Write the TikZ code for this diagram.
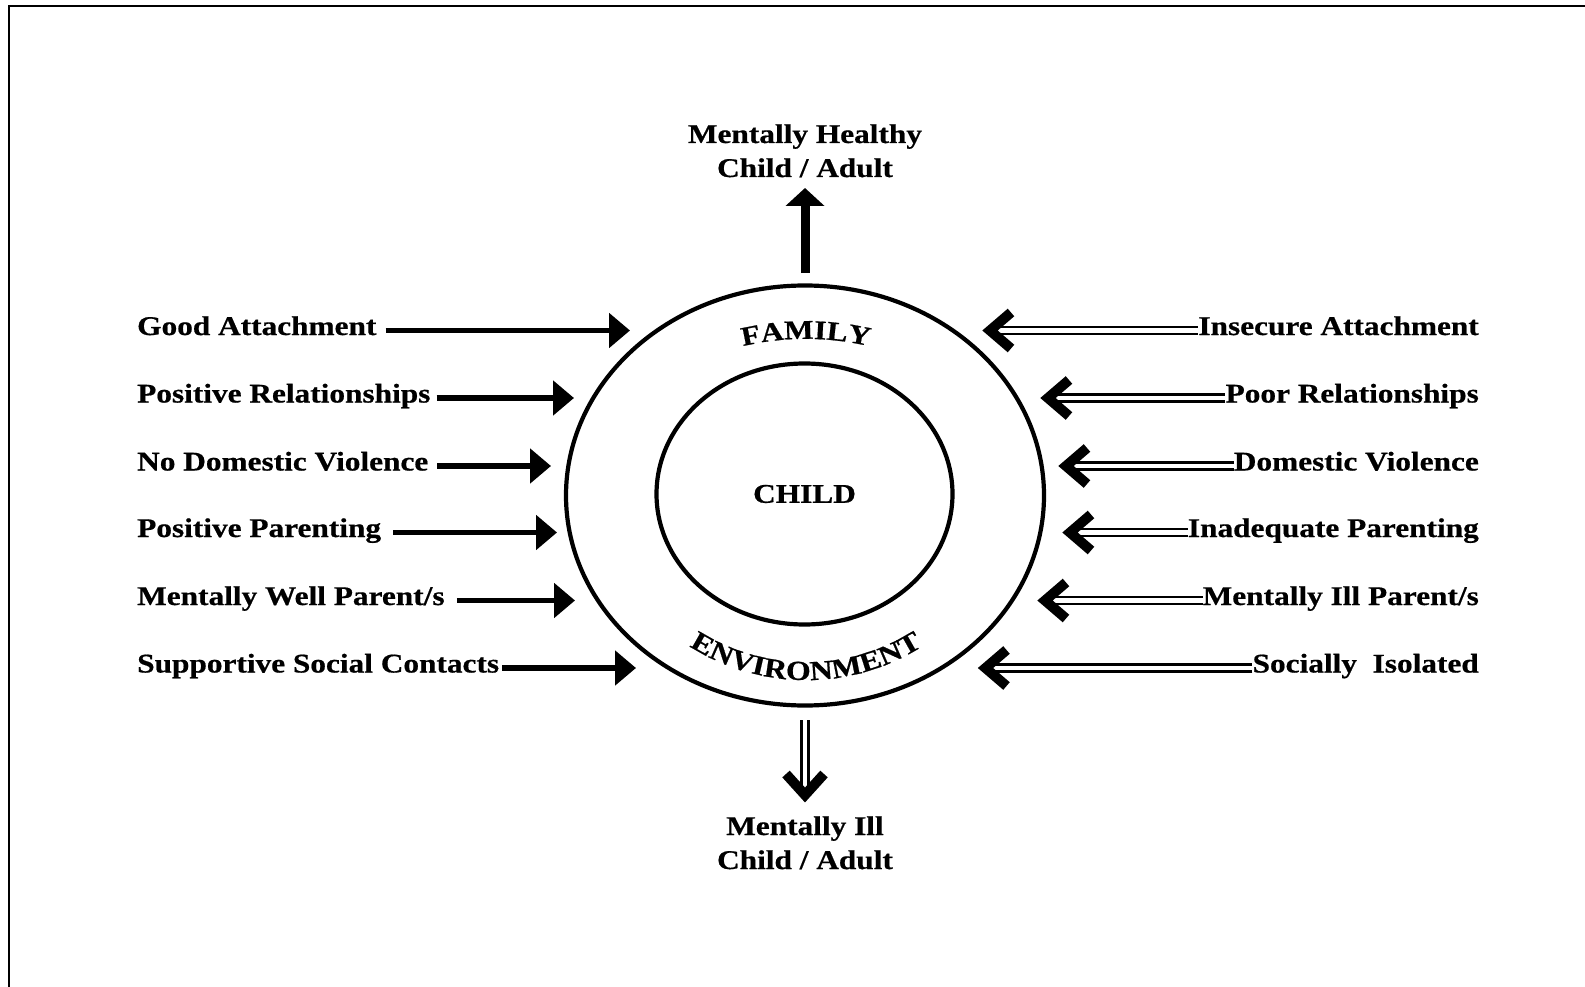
\documentclass[tikz,border=0pt]{standalone}
\usepackage{fontspec}
\setmainfont{Liberation Serif}[FakeStretch=1.16, BoldFeatures={FakeBold=0.6}]
\usetikzlibrary{arrows.meta,shapes.geometric,decorations.text}
\begin{document}
\begin{tikzpicture}[x=1pt,y=1pt,
 lbl/.style={inner sep=0, font=\fontsize{27}{33}\selectfont\bfseries},
 good/.style={line width=5.5pt, -{Triangle[length=21pt,width=34pt]}},
 bad/.style={double, double distance=4.5pt, line width=2.7pt},
 chev/.style={line width=10pt, miter limit=10},
 ring/.style={ellipse, draw, line width=4.2pt, inner sep=0}]
\useasboundingbox (0,0) rectangle (1585,-987);
\draw[line width=2.5pt] (9,-987) -- (9,-6) -- (1585,-6);

% rings
\node[ring, minimum width=478, minimum height=420] (outer) at (805,-495.5) {};
\node[ring, minimum width=296, minimum height=261] (inner) at (804.5,-494) {};
\node[lbl] (child) at (804.5,-494) {CHILD};

\path[decorate, decoration={text along path, text align=center,
  text={|\fontsize{27}{27}\selectfont\bfseries|FAMILY}}]
  (806,-619) ++(160:280) arc[start angle=160, end angle=20, radius=280];
\path[decorate, decoration={text along path, text align=center,
  text={|\fontsize{27.5}{27.5}\selectfont\bfseries|ENVIRONMENT}}]
  (806,-462) ++(200:218) arc[start angle=200, end angle=340, radius=218];

% top and bottom
\node[lbl, anchor=base] (top1) at (805,-143) {Mentally Healthy};
\node[lbl, anchor=base] (top2) at (805,-177) {Child / Adult};
\node[lbl, anchor=base] (bot1) at (805,-835) {Mentally Ill};
\node[lbl, anchor=base] (bot2) at (805,-869) {Child / Adult};
\coordinate (topS) at (805,-273);
\coordinate (topT) at (805,-188);
\draw[line width=9pt, -{Triangle[length=18pt,width=38pt]}] (topS) -- (topT);
\coordinate (botS) at (805,-720);
\coordinate (botV) at (805,-795);
\draw[bad] (botS) -- (botV);
\draw[chev] ([shift={(-19,21)}]botV) -- (botV) -- ([shift={(19,21)}]botV);

% left side
\node[lbl, anchor=base west] (L1) at (137,-335) {Good Attachment};
\node[lbl, anchor=base west] (L2) at (137,-402.5) {Positive Relationships};
\node[lbl, anchor=base west] (L3) at (137,-470.5) {No Domestic Violence};
\node[lbl, anchor=base west] (L4) at (137,-537) {Positive Parenting};
\node[lbl, anchor=base west] (L5) at (137,-605) {Mentally Well Parent/s};
\node[lbl, anchor=base west] (L6) at (137,-672.5) {Supportive Social Contacts};
\coordinate (tL1) at (630,-330.5);
\coordinate (tL2) at (574,-398);
\coordinate (tL3) at (551,-466);
\coordinate (tL4) at (557,-532.5);
\coordinate (tL5) at (575,-600.5);
\coordinate (tL6) at (636,-668);
\draw[good] ([shift={(9,4.5)}]L1.base east) -- (tL1);
\draw[good] ([shift={(6,4.5)}]L2.base east) -- (tL2);
\draw[good] ([shift={(9,4.5)}]L3.base east) -- (tL3);
\draw[good] ([shift={(12,4.5)}]L4.base east) -- (tL4);
\draw[good] ([shift={(12,4.5)}]L5.base east) -- (tL5);
\draw[good] ([shift={(3,4.5)}]L6.base east) -- (tL6);

% right side
\node[lbl, anchor=base east] (R1) at (1479,-335) {Insecure Attachment};
\node[lbl, anchor=base east] (R2) at (1479,-402.5) {Poor Relationships};
\node[lbl, anchor=base east] (R3) at (1479,-470.5) {Domestic Violence};
\node[lbl, anchor=base east] (R4) at (1479,-537) {Inadequate Parenting};
\node[lbl, anchor=base east] (R5) at (1479,-605) {Mentally Ill Parent/s};
\node[lbl, anchor=base east] (R6) at (1479,-672.5) {Socially\ \ Isolated};
\coordinate (vR1) at (990,-330.5);
\coordinate (vR2) at (1048,-398);
\coordinate (vR3) at (1066,-466);
\coordinate (vR4) at (1070,-532.5);
\coordinate (vR5) at (1045,-600.5);
\coordinate (vR6) at (985.5,-668);
\foreach \i in {1,...,6}{
  \draw[bad] ([yshift=4.5]R\i.base west) -- (vR\i);
  \draw[chev] ([shift={(21,18)}]vR\i) -- (vR\i) -- ([shift={(21,-18)}]vR\i);
}
\end{tikzpicture}
\end{document}
